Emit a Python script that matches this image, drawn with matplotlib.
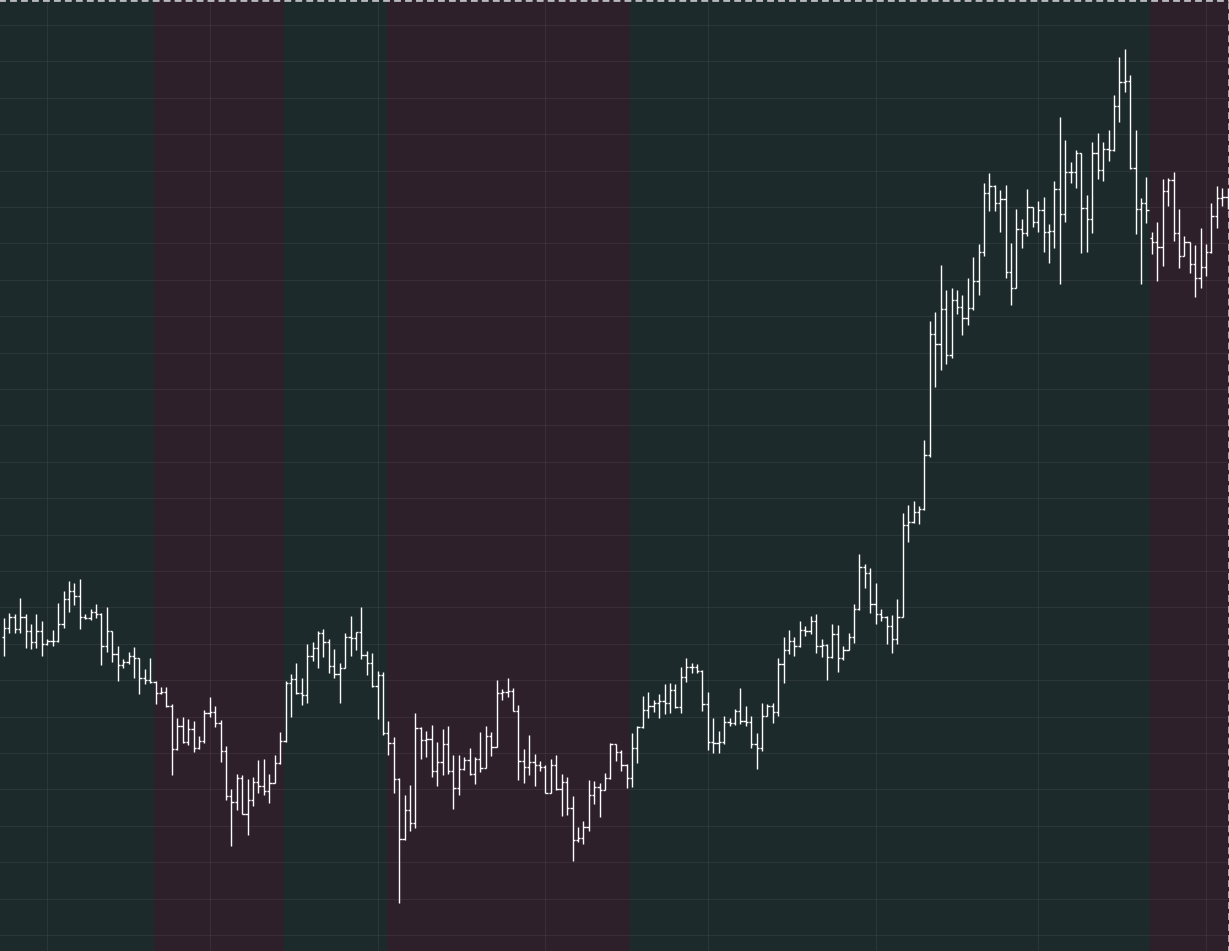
import numpy as np
import pandas as pd
import matplotlib
matplotlib.use('Agg')
import matplotlib.pyplot as plt
import matplotlib.dates as mdates

# daily OHLC (arbitrary price units)
open_ = [941, 968, 1001, 965, 1003, 959, 926, 960, 920, 931,
         931, 981, 1055, 1079, 1065, 1001, 1000, 1016, 1011, 915,
         960, 890, 857, 866, 884, 880, 818, 813, 806, 773,
         778, 735, 605, 675, 628, 665, 608, 631, 713, 718,
         683, 601, 465, 448, 518, 412, 452, 508, 495, 480,
         503, 563, 631, 803, 817, 773, 767, 886, 908, 953,
         927, 855, 830, 848, 941, 938, 956, 889, 863, 796,
         827, 655, 623, 517, 335, 422, 383, 670, 633, 635,
         540, 566, 621, 540, 489, 546, 573, 530, 575, 550,
         646, 613, 773, 776, 781, 721, 570, 553, 566, 558,
         553, 475, 558, 485, 506, 430, 332, 338, 373, 468,
         493, 483, 518, 620, 598, 558, 518, 608, 671, 723,
         735, 743, 750, 743, 783, 731, 823, 851, 853, 840,
         740, 628, 625, 626, 686, 685, 721, 691, 688, 621,
         608, 706, 736, 718, 860, 903, 930, 915, 963, 960,
         990, 915, 918, 883, 950, 880, 903, 941, 1027, 1151,
         1133, 1041, 1010, 1003, 976, 935, 1003, 1277, 1288, 1318,
         1325, 1488, 1850, 1820, 1926, 1787, 1952, 1933, 1898, 1928,
         2011, 2096, 2273, 2296, 2243, 2255, 2036, 1988, 2165, 2155,
         2231, 2186, 2222, 2158, 2161, 2285, 2211, 2336, 2338, 2393,
         2228, 2195, 2393, 2343, 2405, 2402, 2535, 2606, 2611, 2348,
         2226, 2243, 2140, 2126, 2111, 2281, 2313, 2153, 2086, 2128,
         2060, 2020, 2051, 2096, 2206, 2258, 2262]

high = [998, 1013, 1011, 1058, 1010, 981, 1011, 990, 935, 963,
        1045, 1080, 1110, 1104, 1116, 1011, 1026, 1041, 1013, 1032,
        960, 915, 876, 896, 911, 880, 846, 878, 811, 793,
        792, 741, 700, 702, 695, 690, 645, 723, 761, 735,
        693, 616, 485, 531, 528, 516, 521, 573, 576, 531,
        588, 658, 811, 831, 863, 819, 921, 927, 960, 965,
        935, 906, 863, 955, 1005, 958, 1031, 900, 894, 840,
        836, 690, 643, 518, 468, 498, 713, 671, 661, 678,
        628, 666, 675, 588, 588, 583, 608, 581, 658, 675,
        658, 813, 786, 818, 788, 738, 606, 648, 591, 570,
        558, 576, 588, 531, 523, 465, 373, 390, 513, 511,
        505, 533, 623, 621, 603, 561, 655, 675, 765, 777,
        753, 771, 801, 803, 801, 853, 880, 865, 860, 842,
        776, 698, 660, 705, 698, 725, 788, 735, 705, 653,
        743, 741, 745, 880, 941, 963, 943, 991, 975, 1005,
        1011, 935, 920, 981, 978, 915, 953, 1040, 1191, 1161,
        1148, 1103, 1026, 1005, 1008, 1055, 1313, 1338, 1350, 1335,
        1533, 1890, 1918, 2058, 1983, 1988, 1983, 1968, 2018, 2081,
        2121, 2303, 2333, 2298, 2283, 2298, 2123, 2226, 2195, 2286,
        2231, 2250, 2263, 2181, 2310, 2501, 2433, 2366, 2403, 2395,
        2268, 2426, 2453, 2426, 2463, 2568, 2681, 2705, 2628, 2463,
        2258, 2321, 2158, 2186, 2315, 2320, 2336, 2225, 2146, 2128,
        2118, 2170, 2120, 2243, 2295, 2290, 2288]

low = [886, 953, 953, 955, 910, 906, 908, 886, 917, 916,
       928, 970, 1016, 1038, 966, 996, 993, 998, 859, 898,
       868, 811, 850, 861, 818, 772, 800, 805, 742, 770,
       733, 529, 603, 625, 618, 596, 606, 625, 703, 673,
       568, 453, 316, 423, 410, 348, 436, 473, 468, 445,
       503, 561, 628, 703, 771, 739, 743, 871, 850, 883,
       835, 820, 745, 848, 885, 903, 877, 828, 793, 695,
       648, 588, 473, 143, 333, 361, 368, 577, 583, 523,
       495, 528, 530, 427, 468, 544, 528, 501, 536, 548,
       585, 611, 753, 763, 719, 513, 505, 528, 495, 541,
       473, 475, 483, 405, 408, 270, 328, 320, 361, 441,
       403, 483, 516, 570, 541, 488, 493, 563, 668, 700,
       718, 700, 710, 715, 728, 715, 808, 835, 835, 721,
       603, 595, 593, 620, 675, 678, 680, 676, 610, 547,
       601, 704, 685, 705, 805, 891, 886, 913, 946, 950,
       895, 883, 813, 878, 838, 873, 903, 925, 1023, 1090,
       1015, 980, 991, 922, 895, 922, 1003, 1228, 1283, 1280,
       1323, 1483, 1693, 1743, 1761, 1780, 1911, 1848, 1878, 1923,
       1968, 2085, 2221, 2221, 2158, 2020, 1938, 1988, 2110, 2145,
       2173, 2158, 2098, 2063, 2110, 2000, 2188, 2305, 2290, 2093,
       2096, 2155, 2315, 2311, 2371, 2401, 2488, 2578, 2346, 2150,
       2000, 2185, 2090, 2011, 2056, 2236, 2130, 2050, 2086, 2033,
       1963, 1990, 2026, 2093, 2170, 2236, 2225]

close = [968, 1001, 965, 1003, 959, 926, 960, 920, 931, 931,
         981, 1055, 1079, 1065, 1001, 1000, 1016, 1011, 915, 960,
         890, 857, 866, 884, 880, 818, 813, 806, 773, 778,
         735, 605, 675, 628, 665, 608, 631, 713, 718, 683,
         601, 465, 448, 518, 412, 452, 508, 495, 480, 503,
         563, 631, 803, 817, 773, 767, 886, 908, 953, 927,
         855, 830, 848, 941, 938, 956, 889, 863, 796, 827,
         655, 623, 517, 335, 422, 383, 670, 633, 635, 540,
         566, 621, 540, 489, 546, 573, 530, 575, 550, 646,
         613, 773, 776, 781, 721, 570, 553, 566, 558, 553,
         475, 558, 485, 506, 430, 332, 338, 373, 468, 493,
         483, 518, 620, 598, 558, 518, 608, 671, 723, 735,
         743, 750, 743, 783, 731, 823, 851, 853, 840, 740,
         628, 625, 626, 686, 685, 721, 691, 688, 621, 608,
         706, 736, 718, 860, 903, 930, 915, 963, 960, 990,
         915, 918, 883, 950, 880, 903, 941, 1027, 1151, 1133,
         1041, 1010, 1003, 976, 935, 1003, 1277, 1288, 1318, 1325,
         1488, 1850, 1820, 1926, 1787, 1952, 1933, 1898, 1928, 2011,
         2096, 2273, 2296, 2243, 2255, 2036, 1988, 2165, 2155, 2231,
         2186, 2222, 2158, 2161, 2285, 2211, 2336, 2338, 2393, 2228,
         2195, 2393, 2343, 2405, 2402, 2535, 2606, 2611, 2348, 2226,
         2243, 2223, 2126, 2111, 2281, 2313, 2153, 2086, 2128, 2060,
         2020, 2051, 2096, 2206, 2258, 2262, 2266]

# regime shading, in days from the first bar
red_spans = [(27.7, 51.7), (70.8, 115.6), (211.65, 230.0)]

green_bg = '#1d2a2b'
red_bg = '#2e202b'

plt.rcParams['lines.scale_dashes'] = False

dates = pd.date_range('2021-05-24', periods=len(close), freq='D')
x = mdates.date2num(dates.to_pydatetime())

fig = plt.figure(figsize=(12.29, 9.51), dpi=100)
ax = fig.add_axes([0, 0, 1, 1])
ax.set_facecolor(green_bg)

for a, b in red_spans:
    ax.axvspan(x[0] + a, x[0] + b, color=red_bg, lw=0, zorder=1)

# ohlc bars
tick = 0.42
ax.vlines(x, low, high, colors='white', lw=1.0, zorder=3)
ax.hlines(open_, x - tick, x, colors='white', lw=1.0, zorder=3)
ax.hlines(close, x, x + tick, colors='white', lw=1.0, zorder=3)

ax.set_xlim(x[0] - 0.74, x[0] + 226.25)
ax.set_ylim(0, 2853)

ax.xaxis.set_major_locator(mdates.MonthLocator())
ax.set_yticks(np.arange(48, 2800, 109.2))
ax.grid(True, color='white', alpha=0.06, lw=0.8, zorder=2)
ax.tick_params(length=0, labelbottom=False, labelleft=False)

for s in ['left', 'bottom']:
    ax.spines[s].set_visible(False)
for s in ['top', 'right']:
    ax.spines[s].set_color('#b9b9c0')
    ax.spines[s].set_linewidth(2)
    ax.spines[s].set_linestyle((0, (2.9, 5.0)))

fig.savefig('out.png', dpi=100, facecolor=green_bg)
